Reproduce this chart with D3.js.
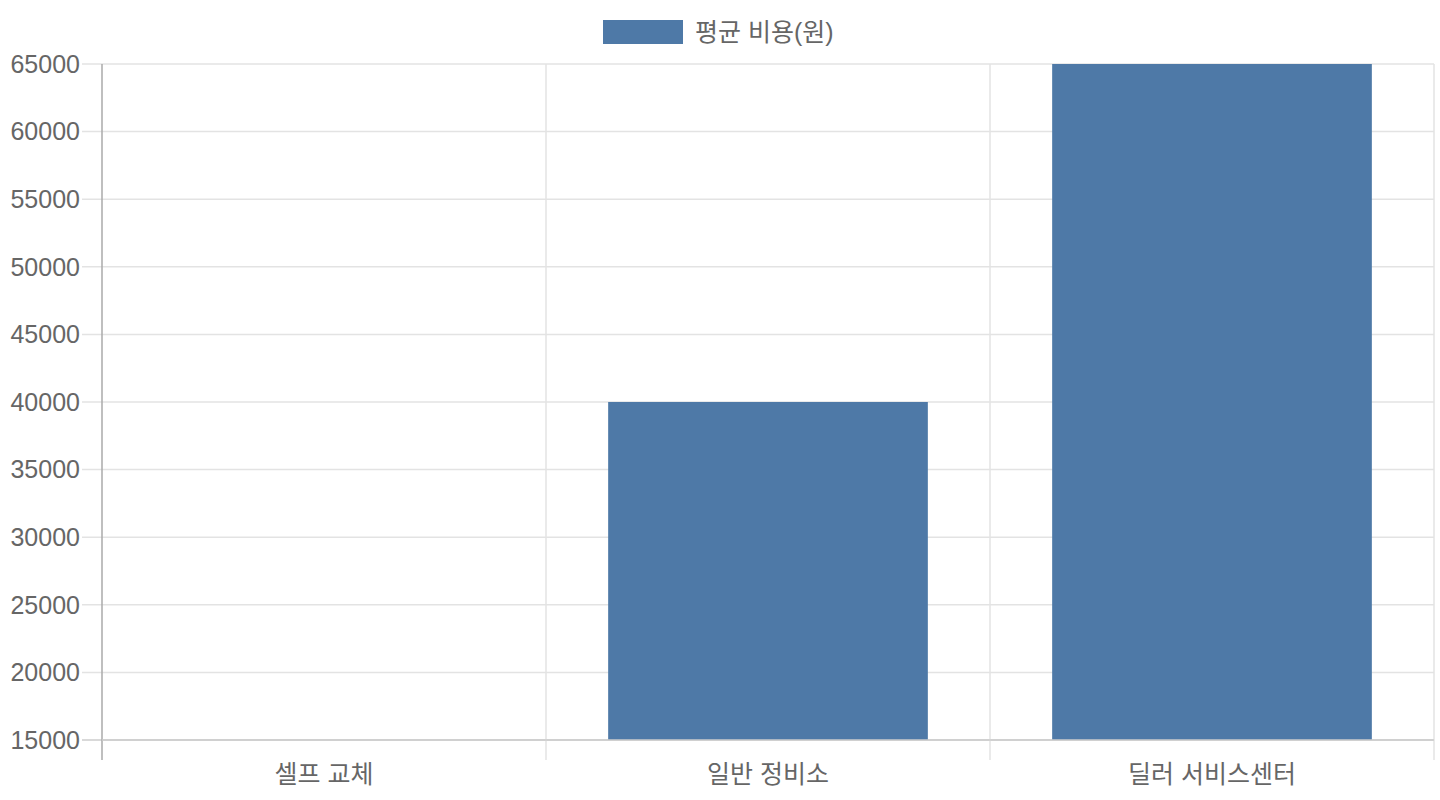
<!DOCTYPE html>
<html><head><meta charset="utf-8">
<script src="https://cdn.jsdelivr.net/npm/d3@7"></script>
<style>body{margin:0;background:#fff}svg{display:block;font-family:"Liberation Sans",Arial,"Noto Sans CJK KR",sans-serif}</style>
</head><body><svg id="c" width="1440" height="800"></svg>
<script>
const categories = ["셀프 교체", "일반 정비소", "딜러 서비스센터"];
const values = [15000, 40000, 65000];
const seriesName = "평균 비용(원)";
const yTicks = [15000, 20000, 25000, 30000, 35000, 40000, 45000, 50000, 55000, 60000, 65000];

const W = 1440, H = 800;
const m = {left: 102, right: 6, top: 64, bottom: 60};
const svg = d3.select("#c");
const color = "#4e79a7", txt = "#666";
const fs = 25;

const x = d3.scaleBand().domain(categories).range([m.left, W - m.right]);
const y = d3.scaleLinear().domain([15000, 65000]).range([H - m.bottom, m.top]);

// horizontal grid
svg.append("g").selectAll("line").data(yTicks).join("line")
  .attr("x1", m.left - 20).attr("x2", W - m.right)
  .attr("y1", d => y(d)).attr("y2", d => y(d))
  .attr("stroke", d => d === 15000 ? "#ccc" : "#e3e3e3").attr("stroke-width", 1.5);
// vertical grid (category boundaries)
const bounds = categories.map(c => x(c)).concat([W - m.right]);
svg.append("g").selectAll("line").data(bounds).join("line")
  .attr("x1", d => d).attr("x2", d => d)
  .attr("y1", m.top).attr("y2", H - m.bottom + 20)
  .attr("stroke", (d, i) => i === 0 ? "#aaa" : "#e3e3e3").attr("stroke-width", 1.5);

// bars
svg.append("defs").append("clipPath").attr("id", "clip").append("rect")
  .attr("x", m.left).attr("y", m.top).attr("width", W - m.right - m.left).attr("height", H - m.bottom - m.top);
const bw = x.bandwidth() * 0.72;
svg.append("g").attr("clip-path", "url(#clip)").selectAll("rect").data(values).join("rect")
  .attr("x", (d, i) => x(categories[i]) + (x.bandwidth() - bw) / 2)
  .attr("width", bw)
  .attr("y", d => y(d)).attr("height", d => y(15000) - y(d))
  .attr("fill", color);

// redraw bottom axis line on top
svg.append("line").attr("x1", m.left).attr("x2", W - m.right)
  .attr("y1", y(15000)).attr("y2", y(15000)).attr("stroke", "#ccc").attr("stroke-width", 1.5);

// y labels
svg.append("g").selectAll("text").data(yTicks).join("text")
  .attr("x", 80).attr("y", d => y(d)).attr("dy", "0.35em")
  .attr("text-anchor", "end").attr("fill", txt).attr("font-size", fs)
  .text(d => d);

// x labels
svg.append("g").selectAll("text").data(categories).join("text")
  .attr("x", d => x(d) + x.bandwidth() / 2).attr("y", 774).attr("dy", "0.35em")
  .attr("text-anchor", "middle").attr("fill", txt).attr("font-size", fs)
  .text(d => d);

// legend
svg.append("rect").attr("x", 603).attr("y", 20).attr("width", 80).attr("height", 24).attr("fill", color);
svg.append("text").attr("x", 695).attr("y", 32).attr("dy", "0.35em")
  .attr("fill", txt).attr("font-size", fs).text(seriesName);
</script></body></html>
